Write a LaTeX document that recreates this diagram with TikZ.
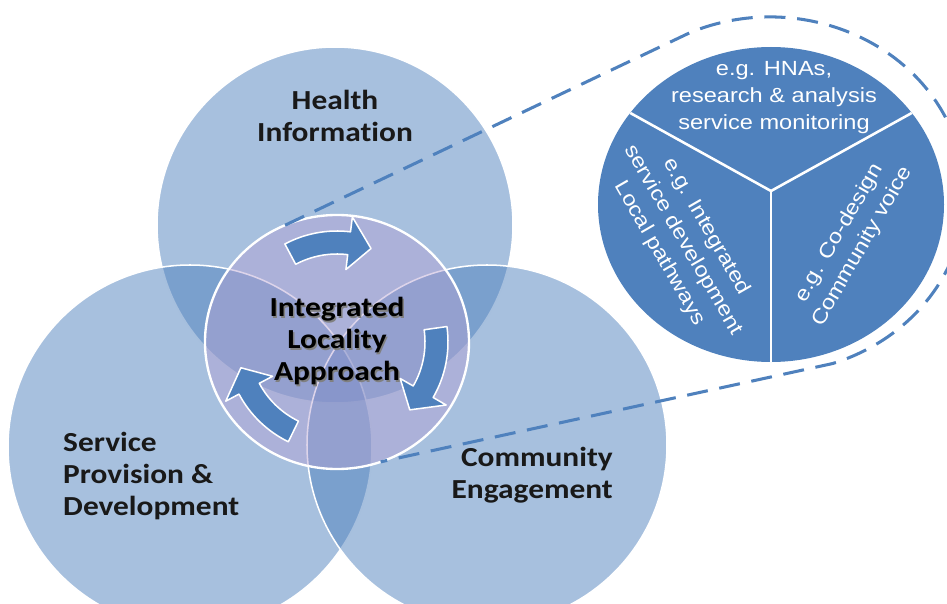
\documentclass[tikz,border=0pt]{standalone}
\usepackage{fontspec}
\setmainfont{Carlito}[FakeStretch=1.14, Ligatures=NoCommon]
\newfontfamily\detfont{Liberation Sans}[FakeStretch=1.15]
\usetikzlibrary{shapes.geometric}
\definecolor{ofblue}{RGB}{79,129,189}
\definecolor{ilafill}{RGB}{180,160,210}
\newcommand{\shtxt}[1]{\rlap{\kern1.2pt\raisebox{-1.2pt}{\textcolor{black!50}{#1}}}#1}

\begin{document}
\begin{tikzpicture}[x=0.03cm, y=0.03cm]
		\tikzstyle{area}=[fill=ofblue, fill opacity=0.5, draw=white, line width=1.3pt]
		\tikzstyle{hub}=[ellipse, minimum width=7.92cm, minimum height=7.62cm, inner sep=0pt, outer sep=0pt, fill=ilafill, fill opacity=0.45, text opacity=1, draw=white, line width=2pt, align=center, font=\bfseries\fontsize{23.5}{27.3}\selectfont]
		\tikzstyle{zoomline}=[ofblue, line width=2.6pt, dash pattern=on 18pt off 10pt]
		\tikzstyle{cyc}=[fill=ofblue, draw=white, line width=1.3pt, line join=round]
		\tikzstyle{area label}=[inner sep=0pt, text=black!90, font=\bfseries\fontsize{23.5}{27.3}\selectfont]
		\tikzstyle{sector}=[white, line width=2.2pt]
		\tikzstyle{sector label}=[inner sep=0pt, text=white, align=center, font=\detfont\fontsize{17.5}{23}\selectfont]
		
		\clip (0,0) rectangle (947,603);
		
		\draw [area] (335,378) circle (178);
		\draw [area] (190,156) circle (182);
		\draw [area] (487,158) circle (180);
		
		% zoomed view
		\fill [ofblue] (771,398.5) ellipse [x radius=173, y radius=157.5];
		\coordinate (dhub) at (771,412);
		\begin{scope}
			\clip (771,398.5) ellipse [x radius=173, y radius=157.5];
			\foreach \ang in {151,29,270}
				\draw [sector] (dhub) -- ++(\ang:250);
		\end{scope}
		
		\node[hub] (ila) at (337,261) {\shtxt{Integrated}\\\shtxt{Locality}\\\shtxt{Approach}};
		
		\coordinate (zt) at (690.1,570.4);
		\draw [zoomline] (ila.114) -- (zt) arc[start angle=114.2, end angle=-71.3, x radius=195, y radius=178] -- (ila.-70);
		
		\begin{scope}[shift={(337,261)}]
			\foreach \a/\b in {118/70, 8/-43, 244/195} {
				\pgfmathsetmacro{\h}{\b+13}
				\filldraw [cyc] (\a:111) arc[start angle=\a, end angle=\h, radius=111] -- (\h:126) -- (\b:99.5) -- (\h:73) -- (\h:88) arc[start angle=\h, end angle=\a, radius=88] -- cycle;
			}
		\end{scope}
		
		\node[area label, align=center] (hi) at (335,487) {Health\\Information};
		\node[area label, align=left, anchor=west] (spd) at (63,127) {Service\\Provision \&\\Development};
		\node[area label, align=right, anchor=east] (ce) at (613,128) {Community\\Engagement};
		
		\node[sector label] (hna) at (774,505) {e.g. HNAs,\\research \& analysis\\service monitoring};
		\node[sector label, rotate=-60] (isd) at (683,363) {e.g. Integrated\\service development\\Local pathways};
		\node[sector label, rotate=60] (cod) at (851,363) {e.g. Co-design\\Community voice};
\end{tikzpicture}
\end{document}
